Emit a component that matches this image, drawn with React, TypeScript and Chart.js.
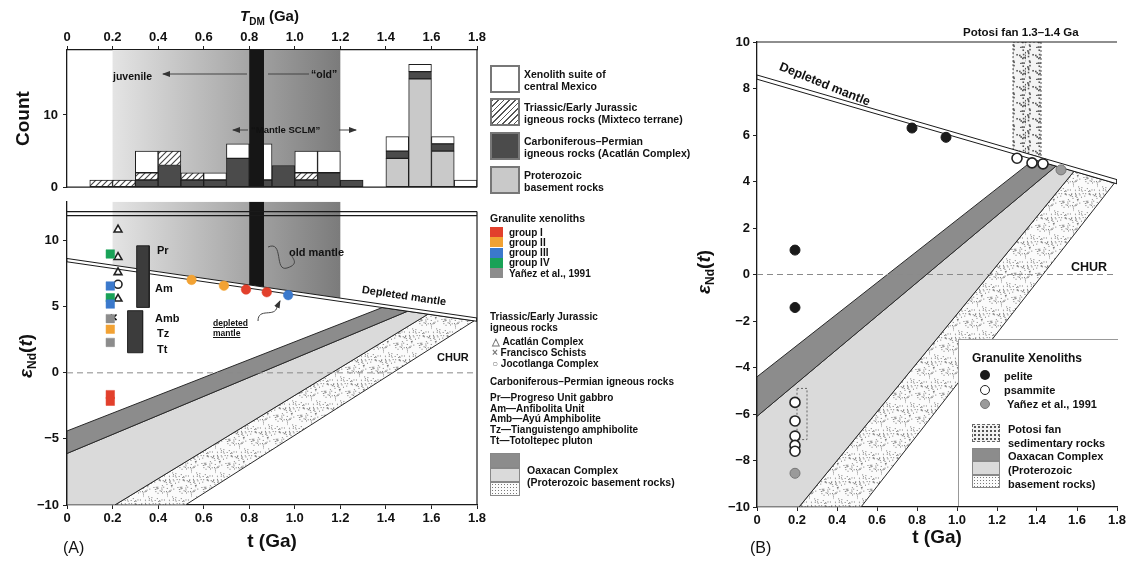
import React, { useEffect, useRef } from 'react';
import { Chart, registerables } from 'chart.js';

Chart.register(...registerables);
const FONT = "'Liberation Sans', Arial, Helvetica, sans-serif";
Chart.defaults.font.family = FONT;
Chart.defaults.color = '#111';

// ---------------- tick labels ----------------
const tTickLabels = ['0', '0.2', '0.4', '0.6', '0.8', '1.0', '1.2', '1.4', '1.6', '1.8'];
const countTickLabels = ['0', '10'];
const epsTickLabelsA = ['−10', '−5', '0', '5', '10'];
const epsTickLabelsB = ['−10', '−8', '−6', '−4', '−2', '0', '2', '4', '6', '8', '10'];

// ---------------- Panel A (top): T_DM histogram ----------------
const binCentres = [0.15, 0.25, 0.35, 0.45, 0.55, 0.65, 0.75, 0.85, 0.95, 1.05, 1.15, 1.25, 1.35, 1.45, 1.55, 1.65, 1.75];
const protCounts = [0, 0, 0, 0, 0, 0, 0, 0, 0, 0, 0, 0, 0, 4, 15, 5, 0];
const carbCounts = [0, 0, 1, 3, 1, 1, 4, 1, 3, 1, 2, 1, 0, 1, 1, 1, 0];
const triasCounts = [1, 1, 1, 2, 1, 0, 0, 0, 0, 1, 0, 0, 0, 0, 0, 0, 0];
const xenoCounts = [0, 0, 3, 0, 0, 1, 2, 5, 0, 3, 3, 0, 0, 2, 1, 1, 1];
const countMax = 19;

// shaded T_DM window (0.2-1.2 Ga) and black bar
const windowPolyT = [0.2, 1.2, 1.2, 0.2];
const windowPolyTopE = [19, 19, 0, 0];
const windowPolyE_A = [12.94, 12.94, 5.65, 8.15];
const blackBarT = [0.8, 0.865, 0.865, 0.8];
const blackBarTopE = [19, 19, 0, 0];
const blackBarE_A = [12.94, 12.94, 6.49, 6.65];

// ---------------- Panel A (bottom): eNd(t) vs t ----------------
const epsMaxA = 12.94;
const dmPolyT = [0, 1.8, 1.8, 0];
const dmPolyE_A = [8.65, 4.15, 3.9, 8.4];
const dmPolyE_B = [8.58, 4.08, 3.9, 8.4];
const churT = [0, 1.8];
const churE = [0, 0];
const ruleT = [0, 1.8];
const ruleE1 = [12.2, 12.2];
const ruleE2 = [11.9, 11.9];

const darkBandT = [0, 1.384, 1.495, 0];
const darkBandE = [-4.4, 4.94, 4.66, -6.1];
const lightBandT = [0, 1.495, 1.585, 0.21, 0];
const lightBandE = [-6.1, 4.66, 4.44, -10, -10];
const dotBandT = [0.21, 1.585, 1.787, 0.52];
const dotBandE = [-10, 4.44, 3.93, -10];

const grpI_T = [0.19, 0.19, 0.786, 0.877];
const grpI_E = [-1.65, -2.15, 6.3, 6.1];
const grpII_T = [0.19, 0.547, 0.689];
const grpII_E = [3.3, 7.03, 6.59];
const grpIII_T = [0.19, 0.19, 0.971];
const grpIII_E = [6.57, 5.2, 5.88];
const grpIV_T = [0.19, 0.19];
const grpIV_E = [8.99, 5.68];
const yanezA_T = [0.19, 0.19];
const yanezA_E = [4.1, 2.3];
const acatlanT = [0.224, 0.224, 0.224, 0.224];
const acatlanE = [10.83, 8.75, 7.6, 5.6];
const franciscoT = [0.205];
const franciscoE = [4.2];
const jacksongaT = [0.224];
const jacksongaE = [6.7];
const carbPrT = [0.306, 0.361, 0.361, 0.306];
const carbPrE = [9.61, 9.61, 4.95, 4.95];
const carbTtT = [0.266, 0.332, 0.332, 0.266];
const carbTtE = [4.7, 4.7, 1.52, 1.52];

// ---------------- Panel B ----------------
const pelT = [0.775, 0.945, 0.19, 0.19];
const pelE = [6.3, 5.9, 1.05, -1.42];
const psaT = [1.3, 1.375, 1.43, 0.19, 0.19, 0.19, 0.19, 0.19];
const psaE = [5.0, 4.8, 4.76, -5.5, -6.3, -6.95, -7.35, -7.6];
const yanezB_T = [1.52, 0.19];
const yanezB_E = [4.5, -8.55];
const potosiT = [1.28, 1.42, 1.42, 1.28];
const potosiE = [10, 10, 5.03, 5.38];
const boxT = [0.2, 0.25, 0.25, 0.2];
const boxE = [-4.9, -4.9, -7.1, -7.1];

// ---------------- helpers ----------------
const pts = (ts: number[], es: number[]) => ts.map((t, i) => ({ x: t, y: es[i] }));
const poly = (ts: number[], es: number[]) => {
  const p = pts(ts, es);
  p.push({ ...p[0] });
  return p;
};
const shape = (data: any[], bg: any, border: string, bw: number, order: number, extra: any = {}) => ({
  type: 'line',
  data,
  fill: 'shape',
  backgroundColor: bg,
  borderColor: border,
  borderWidth: bw,
  pointRadius: 0,
  pointHoverRadius: 0,
  tension: 0,
  order,
  ...extra,
});
const lineSet = (data: any[], color: string, bw: number, order: number, extra: any = {}) => ({
  type: 'line',
  data,
  fill: false,
  borderColor: color,
  borderWidth: bw,
  pointRadius: 0,
  pointHoverRadius: 0,
  tension: 0,
  order,
  ...extra,
});
const markSet = (data: any[], extra: any) => ({
  type: 'line',
  data,
  showLine: false,
  fill: false,
  order: 0,
  pointHoverRadius: 0,
  ...extra,
});

// texture helper: deterministic scatter of dots inside a small tile
const hash = (n: number) => {
  const s = Math.sin(n * 127.1 + 311.7) * 43758.5453;
  return s - Math.floor(s);
};
function makeStipple(size: number, count: number, bg: string, dot: string, r: number) {
  const c = document.createElement('canvas');
  c.width = size;
  c.height = size;
  const g = c.getContext('2d')!;
  g.fillStyle = bg;
  g.fillRect(0, 0, size, size);
  g.fillStyle = dot;
  for (let i = 0; i < count; i++) {
    const x = hash(i + 1) * size;
    const y = hash(i * 3.7 + 500) * size;
    g.fillRect(x, y, r, r);
  }
  return g.createPattern(c, 'repeat')!;
}
function makeHatch() {
  const c = document.createElement('canvas');
  c.width = 6;
  c.height = 6;
  const g = c.getContext('2d')!;
  g.fillStyle = '#fff';
  g.fillRect(0, 0, 6, 6);
  g.strokeStyle = '#444';
  g.lineWidth = 1.1;
  g.beginPath();
  g.moveTo(-1, 7);
  g.lineTo(7, -1);
  g.moveTo(5, 7);
  g.lineTo(7, 5);
  g.moveTo(-1, 1);
  g.lineTo(1, -1);
  g.stroke();
  return g.createPattern(c, 'repeat')!;
}

const windowGradient = (ctx: any) => {
  const chart = ctx.chart;
  const xs = chart && chart.scales ? chart.scales.x : null;
  if (!xs) return '#b0b0b0';
  const x0 = xs.getPixelForValue(0.2);
  const x1 = xs.getPixelForValue(1.2);
  if (!isFinite(x0) || !isFinite(x1) || x0 === x1) return '#b0b0b0';
  const g = chart.ctx.createLinearGradient(x0, 0, x1, 0);
  g.addColorStop(0, '#e4e4e4');
  g.addColorStop(1, '#7b7b7b');
  return g;
};

const framePlugin = {
  id: 'frame',
  afterDatasetsDraw(chart: any, _a: any, opts: any) {
    const { left, right, top, bottom } = chart.chartArea;
    const ctx = chart.ctx;
    ctx.save();
    ctx.strokeStyle = '#1e1e1e';
    ctx.lineWidth = 1.2;
    ctx.beginPath();
    if (opts.top) {
      ctx.moveTo(left, top);
      ctx.lineTo(right, top);
    }
    if (opts.bottom) {
      ctx.moveTo(left, bottom);
      ctx.lineTo(right, bottom);
    }
    if (opts.right) {
      const y0 = opts.rightFrom != null ? chart.scales.y.getPixelForValue(opts.rightFrom) : top;
      ctx.moveTo(right, y0);
      ctx.lineTo(right, bottom);
    }
    ctx.stroke();
    ctx.restore();
  },
};

const tickFont = { family: FONT, size: 13, weight: 'bold' as const };
const titleFont = { family: FONT, size: 19, weight: 'bold' as const };
const tickT = (v: any) => {
  const f = Number(v) * 5;
  const i = Math.round(f);
  return Math.abs(f - i) < 1e-6 ? tTickLabels[i] : '';
};
const gridStyle = { drawOnChartArea: false, drawTicks: true, tickLength: 4, color: '#222', offset: false };
const borderStyle = { display: true, color: '#1a1a1a', width: 1.3 };
const baseOptions = (padding: any, frame: any) => ({
  responsive: false,
  maintainAspectRatio: false,
  animation: false,
  events: [],
  layout: { padding },
  plugins: { legend: { display: false }, tooltip: { enabled: false }, frame },
});
const tAxis = (position: string, height: number, title: any) => ({
  type: 'linear',
  position,
  min: 0,
  max: 1.8,
  offset: false,
  ticks: { stepSize: 0.2, callback: tickT, font: tickFont, color: '#111', padding: 2, maxRotation: 0, autoSkip: false },
  grid: gridStyle,
  border: borderStyle,
  title,
  afterFit: (s: any) => {
    s.height = height;
  },
});

// ---------------- chart builders ----------------
function buildTop() {
  const hatch = makeHatch();
  const layers = [
    { counts: protCounts, color: '#c9c9c9' },
    { counts: carbCounts, color: '#4b4b4b' },
    { counts: triasCounts, color: hatch },
    { counts: xenoCounts, color: '#ffffff' },
  ];
  const base = binCentres.map(() => 0);
  const barSets = layers.map((l) => {
    const data: any[] = [];
    binCentres.forEach((c, i) => {
      const lo = base[i];
      const hi = lo + l.counts[i];
      base[i] = hi;
      if (l.counts[i] > 0) data.push({ x: c, y: [lo, hi] });
    });
    return {
      type: 'bar',
      data,
      backgroundColor: l.color,
      borderColor: '#1e1e1e',
      borderWidth: 1,
      borderSkipped: false,
      grouped: false,
      barPercentage: 1,
      categoryPercentage: 1,
      order: 5,
    };
  });
  return {
    type: 'bar',
    data: {
      datasets: [
        shape(poly(windowPolyT, windowPolyTopE), windowGradient, 'rgba(0,0,0,0)', 0, 10),
        ...barSets,
        shape(poly(blackBarT, blackBarTopE), '#161616', '#161616', 0, 1),
      ],
    },
    options: {
      ...baseOptions({ top: 0, right: 13, bottom: 7, left: 0 }, { right: true, bottom: true }),
      scales: {
        x: { ...tAxis('top', 50, { display: false }), ticks: { stepSize: 0.2, callback: tickT, font: tickFont, color: '#111', padding: 1, maxRotation: 0, autoSkip: false } },
        y: {
          type: 'linear',
          min: 0,
          max: countMax,
          ticks: { stepSize: 10, includeBounds: false, callback: (v: any) => countTickLabels[Math.round(Number(v) / 10)], font: tickFont, color: '#111', padding: 5 },
          grid: gridStyle,
          border: borderStyle,
          title: { display: true, text: 'Count', font: titleFont, color: '#111', padding: { top: 12, bottom: 0 } },
          afterFit: (s: any) => {
            s.width = 67;
          },
        },
      },
    },
    plugins: [framePlugin],
  };
}

function bandSets(stipple: any) {
  return [
    shape(poly(darkBandT, darkBandE), '#8c8c8c', '#2a2a2a', 1, 9),
    shape(poly(lightBandT, lightBandE), '#dadada', '#2a2a2a', 1, 9),
    shape(poly(dotBandT, dotBandE), stipple, '#2a2a2a', 1, 9),
  ];
}

function buildBottomA() {
  const stipple = makeStipple(24, 70, '#fbfbfb', '#7a7a7a', 1);
  const gStyle = (ctx: any) => (ctx.raw && ctx.raw.x < 0.3 ? 'rect' : 'circle');
  const gRad = (ctx: any) => (ctx.raw && ctx.raw.x < 0.3 ? 6 : 4.8);
  const grp = (ts: number[], es: number[], color: string) =>
    markSet(pts(ts, es), { pointStyle: gStyle, pointRadius: gRad, pointBackgroundColor: color, pointBorderColor: color, pointBorderWidth: 0.5 });
  return {
    type: 'line',
    data: {
      datasets: [
        grp(grpI_T, grpI_E, '#e2402c'),
        grp(grpII_T, grpII_E, '#f2a233'),
        grp(grpIII_T, grpIII_E, '#3b79cc'),
        grp(grpIV_T, grpIV_E, '#19a257'),
        grp(yanezA_T, yanezA_E, '#8c8c8c'),
        markSet(pts(acatlanT, acatlanE), { pointStyle: 'triangle', pointRadius: 4.5, pointBackgroundColor: '#fff', pointBorderColor: '#222', pointBorderWidth: 1.6 }),
        markSet(pts(franciscoT, franciscoE), { pointStyle: 'crossRot', pointRadius: 4, pointBorderColor: '#111', pointBorderWidth: 1.6 }),
        markSet(pts(jacksongaT, jacksongaE), { pointStyle: 'circle', pointRadius: 4, pointBackgroundColor: '#fff', pointBorderColor: '#222', pointBorderWidth: 1.6 }),
        shape(poly(carbPrT, carbPrE), '#3c3c3c', '#222', 1, 1),
        shape(poly(carbTtT, carbTtE), '#3c3c3c', '#222', 1, 1),
        lineSet(pts(ruleT, ruleE1), '#1a1a1a', 1.2, 1),
        lineSet(pts(ruleT, ruleE2), '#1a1a1a', 1.2, 1),
        lineSet(pts(churT, churE), '#8a8a8a', 1, 2, { borderDash: [6, 4] }),
        shape(poly(dmPolyT, dmPolyE_A), '#ffffff', '#1a1a1a', 1, 3),
        shape(poly(blackBarT, blackBarE_A), '#161616', '#161616', 0, 4),
        shape(poly(windowPolyT, windowPolyE_A), windowGradient, 'rgba(0,0,0,0)', 0, 8),
        ...bandSets(stipple),
      ],
    },
    options: {
      ...baseOptions({ top: 3, right: 13, bottom: 0, left: 0 }, { right: true, rightFrom: 12.2 }),
      scales: {
        x: tAxis('bottom', 56, { display: true, text: 't (Ga)', font: titleFont, color: '#111', padding: { top: 0, bottom: 8 } }),
        y: {
          type: 'linear',
          min: -10,
          max: epsMaxA,
          ticks: { stepSize: 5, includeBounds: false, callback: (v: any) => epsTickLabelsA[Math.round((Number(v) + 10) / 5)], font: tickFont, color: '#111', padding: 4 },
          grid: gridStyle,
          border: borderStyle,
          afterFit: (s: any) => {
            s.width = 67;
          },
        },
      },
    },
    plugins: [framePlugin],
  };
}

function buildB() {
  const stipple = makeStipple(24, 70, '#fbfbfb', '#7a7a7a', 1);
  const coarse = makeStipple(16, 22, '#f4f4f4', '#555', 1.6);
  return {
    type: 'line',
    data: {
      datasets: [
        markSet(pts(pelT, pelE), { pointStyle: 'circle', pointRadius: 5, pointBackgroundColor: '#1a1a1a', pointBorderColor: '#1a1a1a', pointBorderWidth: 1 }),
        markSet(pts(psaT, psaE), { pointStyle: 'circle', pointRadius: 5, pointBackgroundColor: '#fff', pointBorderColor: '#222', pointBorderWidth: 1.6 }),
        markSet(pts(yanezB_T, yanezB_E), { pointStyle: 'circle', pointRadius: 5, pointBackgroundColor: '#9a9a9a', pointBorderColor: '#777', pointBorderWidth: 1 }),
        lineSet(poly(boxT, boxE), '#666', 1, 2, { borderDash: [2, 2] }),
        lineSet(pts(churT, churE), '#8a8a8a', 1, 2, { borderDash: [6, 4] }),
        shape(poly(dmPolyT, dmPolyE_B), '#ffffff', '#1a1a1a', 1, 3),
        shape(poly(potosiT, potosiE), coarse, '#555', 1, 7, { borderDash: [2, 2] }),
        ...bandSets(stipple),
      ],
    },
    options: {
      ...baseOptions({ top: 42, right: 12, bottom: 0, left: 0 }, { top: true }),
      scales: {
        x: tAxis('bottom', 54, { display: true, text: 't (Ga)', font: titleFont, color: '#111', padding: { top: 0, bottom: 12 } }),
        y: {
          type: 'linear',
          min: -10,
          max: 10,
          ticks: { stepSize: 2, callback: (v: any) => epsTickLabelsB[Math.round((Number(v) + 10) / 2)], font: tickFont, color: '#111', padding: 3 },
          grid: gridStyle,
          border: borderStyle,
          afterFit: (s: any) => {
            s.width = 67;
          },
        },
      },
    },
    plugins: [framePlugin],
  };
}

function ChartCanvas({ left, top, width, height, build }: any) {
  const ref = useRef<HTMLCanvasElement>(null);
  useEffect(() => {
    const chart = new Chart(ref.current as HTMLCanvasElement, build());
    return () => chart.destroy();
  }, []);
  return <canvas ref={ref} width={width} height={height} style={{ position: 'absolute', left, top, width, height }} />;
}

// ---------------- HTML text helpers ----------------
const T = ({ x, y, size = 10.5, weight = 700, children, style = {} }: any) => (
  <div style={{ position: 'absolute', left: x, top: y, fontSize: size, fontWeight: weight, lineHeight: 1, whiteSpace: 'nowrap', color: '#111', ...style }}>{children}</div>
);
const Box = ({ x, y, w, h, bg, border = '1px solid #888', style = {} }: any) => (
  <div style={{ position: 'absolute', left: x, top: y, width: w, height: h, background: bg, border, boxSizing: 'border-box', ...style }} />
);
const hatchCss = 'repeating-linear-gradient(135deg, #555 0px, #555 1px, #fff 1px, #fff 4px)';
const stippleCss = 'radial-gradient(circle, #777 0.6px, transparent 0.9px) 0 0 / 3px 3px, #fbfbfb';
const coarseCss = 'radial-gradient(circle, #555 0.8px, transparent 1.1px) 0 0 / 4px 4px, #f2f2f2';

const legendTop = [
  { bg: '#fff', lines: ['Xenolith suite of', 'central Mexico'], y: 65 },
  { bg: hatchCss, lines: ['Triassic/Early Jurassic', 'igneous rocks (Mixteco terrane)'], y: 98 },
  { bg: '#4b4b4b', lines: ['Carboniferous–Permian', 'igneous rocks (Acatlán Complex)'], y: 132 },
  { bg: '#c9c9c9', lines: ['Proterozoic', 'basement rocks'], y: 166 },
];
const legendGroups = [
  { c: '#e2402c', t: 'group I' },
  { c: '#f2a233', t: 'group II' },
  { c: '#3b79cc', t: 'group III' },
  { c: '#19a257', t: 'group IV' },
  { c: '#8c8c8c', t: 'Yañez et al., 1991' },
];
const legendCarb = ['Pr—Progreso Unit gabbro', 'Am—Anfibolita Unit', 'Amb—Ayú Amphibolite', 'Tz—Tianguistengo amphibolite', 'Tt—Totoltepec pluton'];

export default function App() {
  return (
    <div style={{ position: 'absolute', left: 0, top: 0, width: 1129, height: 561, background: '#fff', overflow: 'hidden', fontFamily: FONT, color: '#111' }}>
      <ChartCanvas left={0} top={190} width={490} height={371} build={buildBottomA} />
      <ChartCanvas left={0} top={0} width={490} height={200} build={buildTop} />
      <ChartCanvas left={690} top={0} width={439} height={561} build={buildB} />

      <svg width={1129} height={561} style={{ position: 'absolute', left: 0, top: 0, pointerEvents: 'none' }}>
        <defs>
          <marker id="ah" markerWidth="8" markerHeight="6" refX="7" refY="3" orient="auto">
            <path d="M0,0 L8,3 L0,6 z" fill="#333" />
          </marker>
        </defs>
        <line x1={247} y1={74} x2={163} y2={74} stroke="#444" strokeWidth={1} markerEnd="url(#ah)" />
        <line x1={309} y1={74} x2={268} y2={74} stroke="#444" strokeWidth={1} />
        <line x1={248} y1={130} x2={233} y2={130} stroke="#444" strokeWidth={1} markerEnd="url(#ah)" />
        <line x1={339} y1={130} x2={356} y2={130} stroke="#444" strokeWidth={1} markerEnd="url(#ah)" />
        <path d="M268,247 C284,240 274,272 287,268 S292,258 292,256" fill="none" stroke="#444" strokeWidth={1} />
        <path d="M258,321 C258,307 275,318 277,307 L280,301" fill="none" stroke="#444" strokeWidth={1} markerEnd="url(#ah)" />
      </svg>

      {/* Panel A texts */}
      <T x={240} y={8} size={15}>
        <i>T</i>
        <sub style={{ fontSize: 10 }}>DM</sub> (Ga)
      </T>
      <T x={113} y={71} size={10.5}>juvenile</T>
      <T x={311} y={69} size={10.5}>“old”</T>
      <T x={251} y={125} size={9.5}>“Mantle SCLM”</T>
      <div style={{ position: 'absolute', left: 27, top: 356, transform: 'translate(-50%,-50%) rotate(-90deg)', fontSize: 19, fontWeight: 700, whiteSpace: 'nowrap', lineHeight: 1 }}>
        <i>ε</i>
        <sub style={{ fontSize: 12 }}>Nd</sub>(<i>t</i>)
      </div>
      <T x={157} y={245} size={11}>Pr</T>
      <T x={155} y={283} size={11}>Am</T>
      <T x={155} y={313} size={11}>Amb</T>
      <T x={157} y={328} size={11}>Tz</T>
      <T x={157} y={344} size={11}>Tt</T>
      <T x={289} y={247} size={11}>old mantle</T>
      <T x={213} y={318} size={8.5} style={{ textDecoration: 'underline', lineHeight: 1.2 }}>
        depleted
        <br />
        mantle
      </T>
      <T x={362} y={284} size={11} style={{ transform: 'rotate(8.5deg)', transformOrigin: '0 50%' }}>Depleted mantle</T>
      <T x={437} y={352} size={11}>CHUR</T>
      <T x={63} y={540} size={16} weight={400}>(A)</T>

      {/* Panel A legends */}
      {legendTop.map((l, i) => (
        <React.Fragment key={i}>
          <Box x={490} y={l.y} w={30} h={28} bg={l.bg} border="2px solid #777" />
          <T x={524} y={l.y + 3} size={10.5} style={{ lineHeight: '12px' }}>
            {l.lines[0]}
            <br />
            {l.lines[1]}
          </T>
        </React.Fragment>
      ))}
      <T x={490} y={213} size={10.5}>Granulite xenoliths</T>
      {legendGroups.map((g, i) => (
        <React.Fragment key={g.t}>
          <Box x={490} y={227 + i * 10.3} w={13} h={10} bg={g.c} border="none" />
          <T x={509} y={227.5 + i * 10.3} size={10}>{g.t}</T>
        </React.Fragment>
      ))}
      <T x={490} y={312} size={10} style={{ lineHeight: '10.5px' }}>
        Triassic/Early Jurassic
        <br />
        igneous rocks
      </T>
      <T x={492} y={337} size={10}><span style={{ color: '#777' }}>△</span> Acatlán Complex</T>
      <T x={492} y={348} size={10}><span style={{ color: '#777' }}>×</span> Francisco Schists</T>
      <T x={492} y={359} size={10}><span style={{ color: '#777' }}>○</span> Jocotlanga Complex</T>
      <T x={490} y={377} size={10}>Carboniferous–Permian igneous rocks</T>
      {legendCarb.map((s, i) => (
        <T key={s} x={490} y={393 + i * 10.7} size={10}>{s}</T>
      ))}
      <Box x={490} y={453} w={30} h={15} bg="#8c8c8c" />
      <Box x={490} y={468} w={30} h={14} bg="#dadada" />
      <Box x={490} y={482} w={30} h={14} bg={stippleCss} />
      <T x={527} y={465} size={10.5}>Oaxacan Complex</T>
      <T x={527} y={477} size={10.5}>(Proterozoic basement rocks)</T>

      {/* Panel B texts */}
      <div style={{ position: 'absolute', left: 705, top: 272, transform: 'translate(-50%,-50%) rotate(-90deg)', fontSize: 19, fontWeight: 700, whiteSpace: 'nowrap', lineHeight: 1 }}>
        <i>ε</i>
        <sub style={{ fontSize: 12 }}>Nd</sub>(<i>t</i>)
      </div>
      <T x={963} y={27} size={11.5}>Potosi fan 1.3–1.4 Ga</T>
      <T x={780} y={60} size={12.5} style={{ transform: 'rotate(22deg)', transformOrigin: '0 50%' }}>Depleted mantle</T>
      <T x={1071} y={261} size={12.5}>CHUR</T>
      <T x={750} y={540} size={16} weight={400}>(B)</T>

      {/* Panel B legend */}
      <div style={{ position: 'absolute', left: 958, top: 339, width: 160, height: 167, background: '#fff', borderTop: '1.5px solid #999', borderLeft: '1.5px solid #999', boxSizing: 'border-box' }} />
      <T x={972} y={352} size={12}>Granulite Xenoliths</T>
      <Box x={980} y={370} w={10} h={10} bg="#1a1a1a" border="none" style={{ borderRadius: 5 }} />
      <Box x={980} y={385} w={10} h={10} bg="#fff" border="1.6px solid #222" style={{ borderRadius: 5 }} />
      <Box x={980} y={399} w={10} h={10} bg="#9a9a9a" border="1px solid #777" style={{ borderRadius: 5 }} />
      <T x={1004} y={371} size={11}>pelite</T>
      <T x={1004} y={385} size={11}>psammite</T>
      <T x={1007} y={399} size={11}>Yañez et al., 1991</T>
      <Box x={972} y={424} w={28} h={18} bg={coarseCss} border="1px dashed #666" />
      <T x={1008} y={422} size={11} style={{ lineHeight: '14px' }}>
        Potosi fan
        <br />
        sedimentary rocks
      </T>
      <Box x={972} y={448} w={28} h={13} bg="#8c8c8c" />
      <Box x={972} y={461} w={28} h={14} bg="#dadada" />
      <Box x={972} y={475} w={28} h={13} bg={stippleCss} />
      <T x={1008} y={449} size={11} style={{ lineHeight: '14px' }}>
        Oaxacan Complex
        <br />
        (Proterozoic
        <br />
        basement rocks)
      </T>
    </div>
  );
}
